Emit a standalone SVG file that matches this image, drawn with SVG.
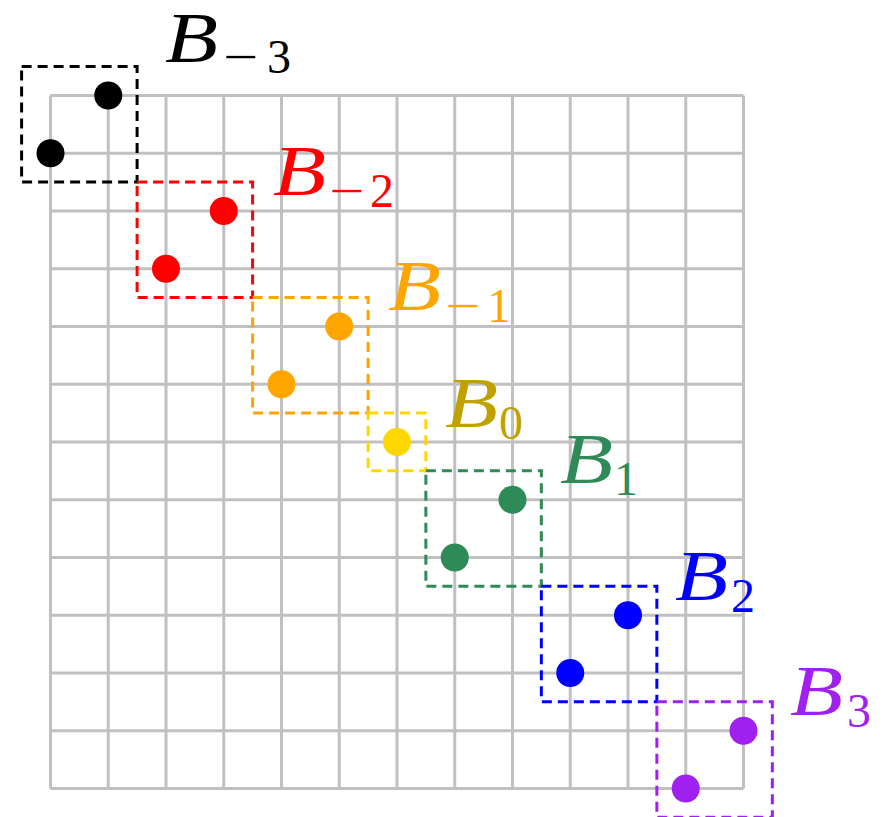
<svg xmlns="http://www.w3.org/2000/svg" width="888" height="817" viewBox="0 0 888 817">
<style>
.grid line{stroke:#c0c0c0;stroke-width:3}
.box{fill:none;stroke-width:3;stroke-dasharray:10 6}
.lb{font-family:"Liberation Serif",serif;font-style:italic;font-size:72px}
.sb{font-family:"Liberation Serif",serif;font-size:48px}
</style>
<rect width="888" height="817" fill="#fff"/>
<g class="grid" id="grid">
<line x1="50.5" y1="95.5" x2="50.5" y2="788.5"/><line x1="108.25" y1="95.5" x2="108.25" y2="788.5"/><line x1="166" y1="95.5" x2="166" y2="788.5"/><line x1="223.75" y1="95.5" x2="223.75" y2="788.5"/><line x1="281.5" y1="95.5" x2="281.5" y2="788.5"/><line x1="339.25" y1="95.5" x2="339.25" y2="788.5"/><line x1="397" y1="95.5" x2="397" y2="788.5"/><line x1="454.75" y1="95.5" x2="454.75" y2="788.5"/><line x1="512.5" y1="95.5" x2="512.5" y2="788.5"/><line x1="570.25" y1="95.5" x2="570.25" y2="788.5"/><line x1="628" y1="95.5" x2="628" y2="788.5"/><line x1="685.75" y1="95.5" x2="685.75" y2="788.5"/><line x1="743.5" y1="95.5" x2="743.5" y2="788.5"/>
<line y1="95.5" x1="50.5" y2="95.5" x2="743.5"/><line y1="153.25" x1="50.5" y2="153.25" x2="743.5"/><line y1="211" x1="50.5" y2="211" x2="743.5"/><line y1="268.75" x1="50.5" y2="268.75" x2="743.5"/><line y1="326.5" x1="50.5" y2="326.5" x2="743.5"/><line y1="384.25" x1="50.5" y2="384.25" x2="743.5"/><line y1="442" x1="50.5" y2="442" x2="743.5"/><line y1="499.75" x1="50.5" y2="499.75" x2="743.5"/><line y1="557.5" x1="50.5" y2="557.5" x2="743.5"/><line y1="615.25" x1="50.5" y2="615.25" x2="743.5"/><line y1="673" x1="50.5" y2="673" x2="743.5"/><line y1="730.75" x1="50.5" y2="730.75" x2="743.5"/><line y1="788.5" x1="50.5" y2="788.5" x2="743.5"/>
</g>
<g id="connectors"/>
<g id="B-3">
<rect class="box" x="21.6" y="66.6" width="115.5" height="115.5" stroke="#000"/>
<circle cx="50.5" cy="153.25" r="14" fill="#000"/><circle cx="108.25" cy="95.5" r="14" fill="#000"/>
<text class="lb" x="165" y="62" fill="#000" textLength="53" lengthAdjust="spacingAndGlyphs">B</text>
<text class="sb" x="223" y="73" fill="#000" textLength="35" lengthAdjust="spacingAndGlyphs">−</text>
<text class="sb" x="267" y="73" fill="#000">3</text>
</g>
<g id="B-2">
<rect class="box" x="137.1" y="182.1" width="115.5" height="115.5" stroke="#ff0000"/>
<circle cx="166" cy="268.75" r="14" fill="#ff0000"/><circle cx="223.75" cy="211" r="14" fill="#ff0000"/>
<text class="lb" x="273" y="195" fill="#ff0000" textLength="53" lengthAdjust="spacingAndGlyphs">B</text>
<text class="sb" x="329" y="207" fill="#ff0000" textLength="35" lengthAdjust="spacingAndGlyphs">−</text>
<text class="sb" x="370" y="207" fill="#ff0000">2</text>
</g>
<g id="B-1">
<rect class="box" x="252.6" y="297.6" width="115.5" height="115.5" stroke="#ffa500"/>
<circle cx="281.5" cy="384.25" r="14" fill="#ffa500"/><circle cx="339.25" cy="326.5" r="14" fill="#ffa500"/>
<text class="lb" x="388" y="310" fill="#ffa500" textLength="53" lengthAdjust="spacingAndGlyphs">B</text>
<text class="sb" x="445" y="322" fill="#ffa500" textLength="35" lengthAdjust="spacingAndGlyphs">−</text>
<text class="sb" x="487" y="322" fill="#ffa500">1</text>
</g>
<g id="B0">
<rect class="box" x="368.1" y="413.1" width="57.75" height="57.75" stroke="#ffd700"/>
<circle cx="397" cy="442" r="14" fill="#ffd700"/>
<text class="lb" x="445" y="427" fill="#bfa100" textLength="53" lengthAdjust="spacingAndGlyphs">B</text>
<text class="sb" x="499" y="439" fill="#bfa100">0</text>
</g>
<g id="B1">
<rect class="box" x="425.85" y="470.85" width="115.5" height="115.5" stroke="#2e8b57"/>
<circle cx="454.75" cy="557.5" r="14" fill="#2e8b57"/><circle cx="512.5" cy="499.75" r="14" fill="#2e8b57"/>
<text class="lb" x="560" y="483" fill="#2e8b57" textLength="53" lengthAdjust="spacingAndGlyphs">B</text>
<text class="sb" x="614" y="495" fill="#2e8b57">1</text>
</g>
<g id="B2">
<rect class="box" x="541.35" y="586.35" width="115.5" height="115.5" stroke="#0000ff"/>
<circle cx="570.25" cy="673" r="14" fill="#0000ff"/><circle cx="628" cy="615.25" r="14" fill="#0000ff"/>
<text class="lb" x="675" y="600" fill="#0000ff" textLength="53" lengthAdjust="spacingAndGlyphs">B</text>
<text class="sb" x="731" y="612" fill="#0000ff">2</text>
</g>
<g id="B3">
<rect class="box" x="656.85" y="701.85" width="115.5" height="115.5" stroke="#a020f0"/>
<circle cx="685.75" cy="788.5" r="14" fill="#a020f0"/><circle cx="743.5" cy="730.75" r="14" fill="#a020f0"/>
<text class="lb" x="790" y="715" fill="#a020f0" textLength="53" lengthAdjust="spacingAndGlyphs">B</text>
<text class="sb" x="847" y="727" fill="#a020f0">3</text>
</g>
</svg>
